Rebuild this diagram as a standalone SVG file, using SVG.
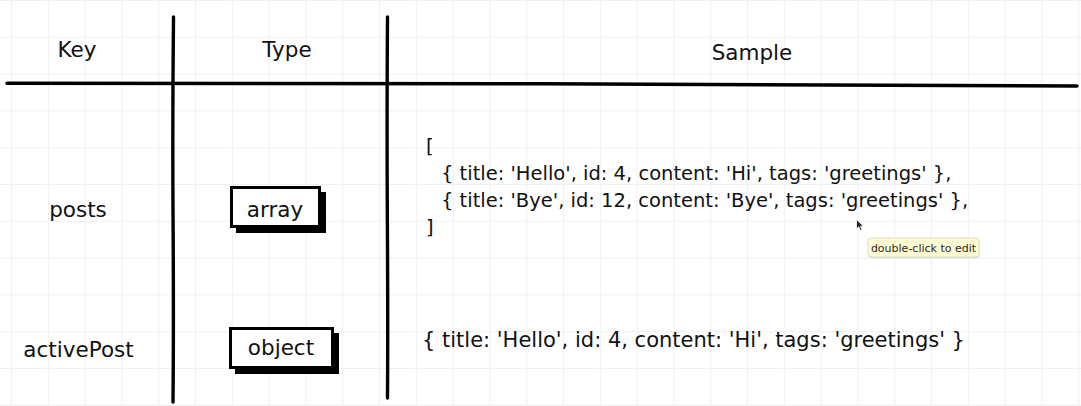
<svg xmlns="http://www.w3.org/2000/svg" width="1081" height="406" viewBox="0 0 1081 406">
<defs>
<pattern id="gridpat" x="11" y="0" width="36.8" height="36.8" patternUnits="userSpaceOnUse">
<path d="M0.5 0 V36.8 M0 0.5 H36.8" fill="none" stroke="#f0f0f0" stroke-width="1"/>
</pattern>
<style>
.ink{fill:none;stroke:#000;stroke-width:3.4;stroke-linecap:round;stroke-linejoin:round}
.hdr{font-family:"DejaVu Sans","Liberation Sans",sans-serif;font-size:21.5px;fill:#111;text-anchor:middle}
.lbl{font-family:"DejaVu Sans","Liberation Sans",sans-serif;font-size:21px;fill:#111}
.code{font-family:"DejaVu Sans","Liberation Sans",sans-serif;font-size:19.5px;fill:#111}
.boxs{fill:#000}
.boxf{fill:#fff;stroke:#000;stroke-width:3}
.tip{font-family:"DejaVu Sans","Liberation Sans",sans-serif;font-size:11px;fill:#2a2a2a;text-anchor:middle}
</style>
</defs>
<rect width="1081" height="406" fill="#fff"/>
<rect id="grid" width="1081" height="406" fill="url(#gridpat)"/>
<g id="table">
<path class="ink" d="M7 83.2 L540 83.8 L1077 86"/>
<path class="ink" d="M173.5 17 Q172.5 120 173 210 Q173.8 320 173 402"/>
<path class="ink" d="M387.5 17 Q386.8 120 387.3 210 Q388 320 387.5 398"/>
</g>
<g id="header-key"><text class="hdr" x="77" y="57">Key</text></g>
<g id="header-type"><text class="hdr" x="287" y="57">Type</text></g>
<g id="header-sample"><text class="hdr" x="752" y="60">Sample</text></g>
<g id="key-posts"><text class="hdr" x="78" y="217">posts</text></g>
<g id="key-activePost"><text class="hdr" x="78.5" y="357">activePost</text></g>
<g id="type-array">
<rect class="boxs" x="236" y="192" width="90" height="41"/>
<rect class="boxf" x="231.5" y="187.5" width="88" height="39"/>
<text class="hdr" x="275" y="217">array</text>
</g>
<g id="type-object">
<rect class="boxs" x="235" y="333" width="104" height="41"/>
<rect class="boxf" x="230.5" y="328.5" width="102" height="39"/>
<text class="hdr" x="281" y="355">object</text>
</g>
<g id="sample-posts">
<text class="code" x="426" y="153">[</text>
<text class="code" x="441" y="180">{ title: 'Hello', id: 4, content: 'Hi', tags: 'greetings' },</text>
<text class="code" x="441" y="207">{ title: 'Bye', id: 12, content: 'Bye', tags: 'greetings' },</text>
<text class="code" x="426" y="234">]</text>
</g>
<g id="sample-activePost">
<text class="lbl" x="422" y="347" font-size="20.8">{ title: 'Hello', id: 4, content: 'Hi', tags: 'greetings' }</text>
</g>
<g id="cursor">
<path d="M856.5 219.5 L856.5 229 L858.8 226.8 L860.5 230.5 L862 229.8 L860.4 226.2 L863.5 226.2 Z" fill="#222" stroke="#fff" stroke-width="0.8"/>
</g>
<g id="tooltip">
<rect x="869" y="239.5" width="111" height="19" rx="3" fill="#d8d8c8" opacity="0.6"/>
<rect x="868" y="238" width="111" height="19" rx="3" fill="#fdfbd2" stroke="#d9d6b8" stroke-width="0.8"/>
<text class="tip" x="923.5" y="251.5">double-click to edit</text>
</g>
</svg>
